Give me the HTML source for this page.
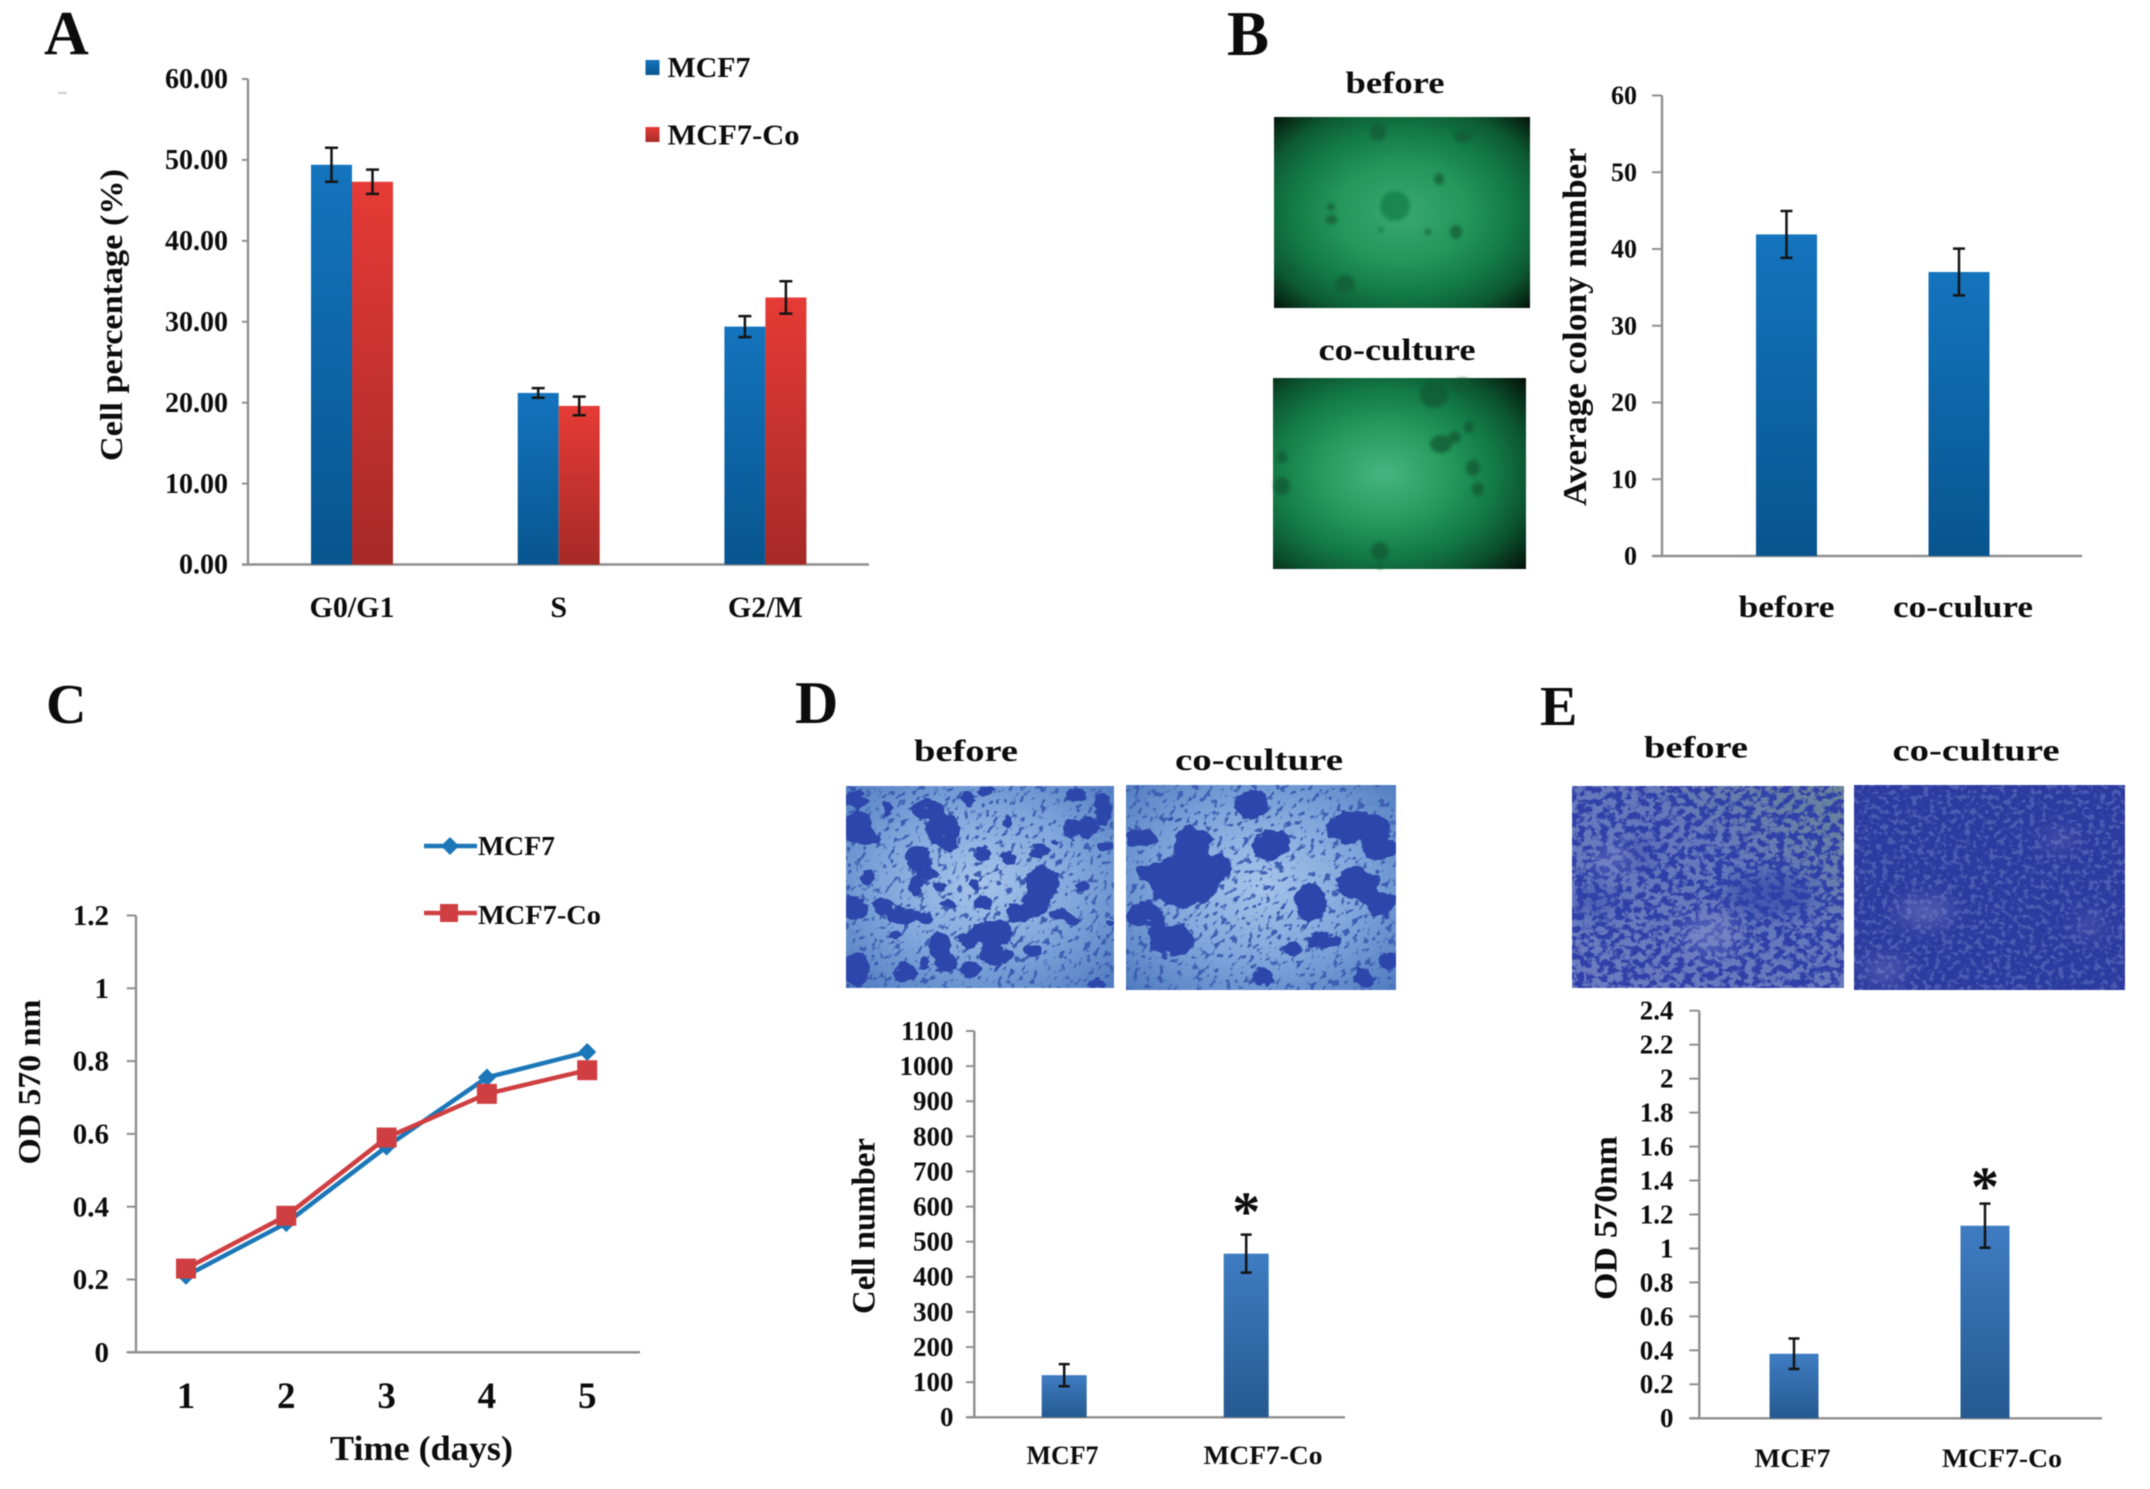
<!DOCTYPE html>
<html lang="en">
<head>
<meta charset="utf-8">
<title>MCF7 co-culture figure</title>
<style>
html,body{margin:0;padding:0;background:#fff;width:2150px;height:1489px;overflow:hidden}
svg{display:block;position:absolute;left:0;top:0;filter:blur(.5px)}
text{font-family:"Liberation Serif",serif;font-weight:bold;fill:#0c0c0c}
</style>
</head>
<body>
<svg id="fig" xmlns="http://www.w3.org/2000/svg" width="2150" height="1489" viewBox="0 0 2150 1489">
<defs>
  <linearGradient id="gBlue" x1="0" y1="0" x2="0" y2="1"><stop offset="0" stop-color="#1474bd"/><stop offset="1" stop-color="#08558f"/></linearGradient>
  <linearGradient id="gRed" x1="0" y1="0" x2="0" y2="1"><stop offset="0" stop-color="#e63b36"/><stop offset="1" stop-color="#a62a27"/></linearGradient>
  <linearGradient id="gSteel" x1="0" y1="0" x2="0" y2="1"><stop offset="0" stop-color="#3f7cc2"/><stop offset="1" stop-color="#255a90"/></linearGradient>
  <radialGradient id="gGreen1" cx=".5" cy=".5" r=".72"><stop offset="0" stop-color="#3aa971"/><stop offset=".35" stop-color="#25975a"/><stop offset=".6" stop-color="#137a45"/><stop offset=".78" stop-color="#0d5a32"/><stop offset=".92" stop-color="#072a17"/><stop offset="1" stop-color="#010705"/></radialGradient>
  <radialGradient id="gGreen2" cx=".44" cy=".5" r=".76"><stop offset="0" stop-color="#47b580"/><stop offset=".32" stop-color="#279c5d"/><stop offset=".58" stop-color="#137a45"/><stop offset=".76" stop-color="#0c5430"/><stop offset=".92" stop-color="#062514"/><stop offset="1" stop-color="#010705"/></radialGradient>
  <radialGradient id="gD" cx=".5" cy=".48" r=".75"><stop offset="0" stop-color="#a6c4ea"/><stop offset=".5" stop-color="#7fa6db"/><stop offset="1" stop-color="#4a76bd"/></radialGradient>
  <linearGradient id="gE1" x1="0" y1="1" x2="1" y2="0"><stop offset="0" stop-color="#6b7cc0"/><stop offset=".6" stop-color="#6678bc"/><stop offset="1" stop-color="#6a8498"/></linearGradient>
  <filter id="cluster" x="-5%" y="-5%" width="110%" height="110%" color-interpolation-filters="sRGB">
    <feGaussianBlur in="SourceAlpha" stdDeviation="6" result="b"/>
    <feTurbulence type="fractalNoise" baseFrequency=".035 .05" numOctaves="3" seed="5" result="n"/>
    <feColorMatrix in="n" type="matrix" values="0 0 0 0 0  0 0 0 0 0  0 0 0 0 0  1 0 0 0 0" result="na"/>
    <feComposite in="b" in2="na" operator="arithmetic" k1="0" k2=".72" k3="1" k4="0" result="sum"/>
    <feComponentTransfer in="sum" result="m"><feFuncA type="linear" slope="10" intercept="-7.9"/></feComponentTransfer>
    <feFlood flood-color="#2d46ab"/>
    <feComposite in2="m" operator="in"/>
  </filter>
  <filter id="specksD" x="0" y="0" width="100%" height="100%" color-interpolation-filters="sRGB">
    <feTurbulence type="fractalNoise" baseFrequency=".13 .2" numOctaves="2" seed="7"/>
    <feColorMatrix type="matrix" values="0 0 0 0 .24  0 0 0 0 .37  0 0 0 0 .7  9 0 0 0 -5.2"/>
  </filter>
  <filter id="specksE" x="0" y="0" width="100%" height="100%" color-interpolation-filters="sRGB">
    <feTurbulence type="fractalNoise" baseFrequency=".13 .15" numOctaves="3" seed="11"/>
    <feColorMatrix type="matrix" values="0 0 0 0 .19  0 0 0 0 .25  0 0 0 0 .66  7 0 0 0 -3.1"/>
  </filter>
  <filter id="specksE2" x="0" y="0" width="100%" height="100%" color-interpolation-filters="sRGB">
    <feTurbulence type="fractalNoise" baseFrequency=".17 .2" numOctaves="2" seed="3"/>
    <feColorMatrix type="matrix" values="0 0 0 0 .3  0 0 0 0 .36  0 0 0 0 .7  6 0 0 0 -3"/>
  </filter>
  <filter id="soft" x="-40%" y="-40%" width="180%" height="180%"><feGaussianBlur stdDeviation="9"/></filter>
  <filter id="edge" x="-30%" y="-30%" width="160%" height="160%"><feGaussianBlur stdDeviation="1.8"/></filter>
  <clipPath id="cpD1"><rect x="846" y="786" width="268" height="202"/></clipPath>
  <clipPath id="cpD2"><rect x="1126" y="785" width="270" height="205"/></clipPath>
  <clipPath id="cpE1"><rect x="1572" y="786" width="272" height="202"/></clipPath>
  <clipPath id="cpE2"><rect x="1854" y="785" width="271" height="205"/></clipPath>
</defs>

<!-- Panel letters -->
<text x="44" y="54" font-size="62">A</text>
<text x="1227" y="55" font-size="63">B</text>
<text x="46" y="723" font-size="56">C</text>
<text x="795" y="723" font-size="60">D</text>
<text x="1540" y="725" font-size="56">E</text>
<rect x="58" y="92" width="9" height="2" fill="#cfcfcf"/>

<!-- Panel B photos -->
<text x="1395" y="93" text-anchor="middle" font-size="31" textLength="99" lengthAdjust="spacingAndGlyphs">before</text>
<g>
  <rect x="1274" y="117" width="256" height="191" fill="url(#gGreen1)"/>
  <g fill="#0d5a33" fill-opacity=".72" filter="url(#edge)">
    <ellipse cx="1378" cy="132" rx="8.5" ry="8.5"/><ellipse cx="1463" cy="137" rx="9" ry="6"/><ellipse cx="1439" cy="179" rx="5" ry="6"/>
    <ellipse cx="1395" cy="206" rx="15" ry="15" fill="#157a46"/><ellipse cx="1331" cy="207" rx="4" ry="4"/><ellipse cx="1331.5" cy="219.5" rx="6" ry="5"/>
    <ellipse cx="1456" cy="232" rx="6" ry="7"/><ellipse cx="1428" cy="232" rx="3" ry="3"/><ellipse cx="1381" cy="230" rx="2" ry="2"/>
    <ellipse cx="1288" cy="269" rx="6" ry="6"/><ellipse cx="1345" cy="284" rx="10" ry="9"/>
  </g>
</g>
<text x="1397" y="360" text-anchor="middle" font-size="31" textLength="157" lengthAdjust="spacingAndGlyphs">co-culture</text>
<g>
  <rect x="1273" y="378" width="253" height="191" fill="url(#gGreen2)"/>
  <g fill="#0d5a33" fill-opacity=".75" filter="url(#edge)" transform="translate(0 -1)">
    <ellipse cx="1434" cy="395.5" rx="14" ry="13"/><ellipse cx="1462" cy="386" rx="9" ry="7"/><ellipse cx="1469" cy="428" rx="5" ry="6"/>
    <ellipse cx="1441" cy="445" rx="11" ry="9"/><ellipse cx="1455" cy="438" rx="6" ry="6"/><ellipse cx="1282" cy="458" rx="5" ry="6"/>
    <ellipse cx="1282" cy="487" rx="8" ry="9"/><ellipse cx="1473" cy="469" rx="7" ry="8"/><ellipse cx="1478" cy="490" rx="6" ry="7"/>
    <ellipse cx="1380" cy="552" rx="9" ry="9"/><ellipse cx="1380" cy="567" rx="3" ry="3"/>
  </g>
</g>

<!-- Panel D photos -->
<text x="966" y="761" text-anchor="middle" font-size="31" textLength="104" lengthAdjust="spacingAndGlyphs">before</text>
<text x="1259" y="770" text-anchor="middle" font-size="31" textLength="168" lengthAdjust="spacingAndGlyphs">co-culture</text>
<g clip-path="url(#cpD1)">
  <rect x="846" y="786" width="268" height="202" fill="url(#gD)"/>
  <rect x="780" y="680" width="400" height="420" filter="url(#specksD)" transform="rotate(-50 980 887)"/>
  <g transform="translate(846 786) scale(.3333)" fill="#2d46ab" filter="url(#cluster)">
    <ellipse cx="30" cy="40" rx="35" ry="25"/><ellipse cx="35" cy="125" rx="45" ry="50"/><ellipse cx="70" cy="155" rx="30" ry="20"/><ellipse cx="125" cy="65" rx="15" ry="20"/>
    <ellipse cx="245" cy="70" rx="50" ry="30"/><ellipse cx="290" cy="130" rx="50" ry="50"/><ellipse cx="310" cy="180" rx="30" ry="20"/><ellipse cx="365" cy="40" rx="20" ry="25"/><ellipse cx="415" cy="15" rx="25" ry="15"/>
    <ellipse cx="215" cy="215" rx="40" ry="35"/><ellipse cx="245" cy="260" rx="30" ry="20"/><ellipse cx="210" cy="300" rx="20" ry="35"/><ellipse cx="280" cy="305" rx="20" ry="15"/><ellipse cx="65" cy="275" rx="22" ry="22"/>
    <ellipse cx="25" cy="365" rx="40" ry="35"/><ellipse cx="110" cy="360" rx="30" ry="25"/><ellipse cx="170" cy="390" rx="50" ry="25"/><ellipse cx="240" cy="395" rx="25" ry="15"/><ellipse cx="310" cy="355" rx="25" ry="12"/>
    <ellipse cx="410" cy="205" rx="25" ry="25"/><ellipse cx="490" cy="215" rx="20" ry="20"/><ellipse cx="385" cy="295" rx="15" ry="15"/><ellipse cx="410" cy="350" rx="30" ry="20"/>
    <ellipse cx="580" cy="195" rx="30" ry="20"/><ellipse cx="590" cy="290" rx="50" ry="50"/><ellipse cx="570" cy="350" rx="40" ry="40"/><ellipse cx="520" cy="380" rx="40" ry="30"/>
    <ellipse cx="440" cy="440" rx="60" ry="40"/><ellipse cx="370" cy="460" rx="30" ry="25"/><ellipse cx="450" cy="510" rx="50" ry="30"/><ellipse cx="280" cy="480" rx="35" ry="40"/><ellipse cx="300" cy="530" rx="35" ry="25"/><ellipse cx="375" cy="550" rx="30" ry="25"/>
    <ellipse cx="175" cy="560" rx="35" ry="30"/><ellipse cx="30" cy="550" rx="40" ry="50"/><ellipse cx="235" cy="530" rx="15" ry="20"/><ellipse cx="145" cy="445" rx="20" ry="12"/>
    <ellipse cx="560" cy="495" rx="30" ry="20"/><ellipse cx="640" cy="385" rx="35" ry="15"/><ellipse cx="680" cy="405" rx="20" ry="15"/><ellipse cx="690" cy="30" rx="35" ry="20"/><ellipse cx="675" cy="130" rx="25" ry="30"/><ellipse cx="720" cy="125" rx="40" ry="30"/><ellipse cx="770" cy="70" rx="25" ry="50"/><ellipse cx="780" cy="180" rx="25" ry="15"/><ellipse cx="710" cy="300" rx="25" ry="15"/><ellipse cx="790" cy="410" rx="15" ry="12"/><ellipse cx="755" cy="595" rx="25" ry="15"/><ellipse cx="485" cy="110" rx="12" ry="25"/><ellipse cx="625" cy="170" rx="15" ry="8"/>
  </g>
</g>
<g clip-path="url(#cpD2)">
  <rect x="1126" y="785" width="270" height="205" fill="url(#gD)"/>
  <rect x="1060" y="680" width="400" height="420" filter="url(#specksD)" transform="rotate(-50 1260 887)"/>
  <g transform="translate(778.5 689.5) scale(.436 .512)" fill="#2f48ae" filter="url(#cluster)">
    <ellipse cx="1085" cy="225" rx="40" ry="28"/><ellipse cx="1330" cy="270" rx="75" ry="32"/><ellipse cx="1380" cy="310" rx="40" ry="22"/>
    <ellipse cx="830" cy="290" rx="38" ry="18"/><ellipse cx="950" cy="300" rx="42" ry="36"/><ellipse cx="1130" cy="305" rx="44" ry="30"/>
    <ellipse cx="930" cy="375" rx="82" ry="50"/><ellipse cx="860" cy="360" rx="42" ry="20"/><ellipse cx="1000" cy="350" rx="42" ry="26"/>
    <ellipse cx="1220" cy="415" rx="38" ry="36"/><ellipse cx="1330" cy="380" rx="48" ry="32"/><ellipse cx="1380" cy="420" rx="36" ry="24"/>
    <ellipse cx="840" cy="440" rx="44" ry="24"/><ellipse cx="900" cy="490" rx="54" ry="32"/><ellipse cx="1250" cy="490" rx="46" ry="14"/>
    <ellipse cx="1110" cy="560" rx="24" ry="18"/><ellipse cx="1340" cy="565" rx="24" ry="18"/><ellipse cx="1180" cy="505" rx="18" ry="16"/><ellipse cx="1400" cy="530" rx="24" ry="18"/>
  </g>
</g>

<!-- Panel E photos -->
<text x="1696" y="757.5" text-anchor="middle" font-size="31" textLength="104" lengthAdjust="spacingAndGlyphs">before</text>
<text x="1976" y="760.5" text-anchor="middle" font-size="31" textLength="167" lengthAdjust="spacingAndGlyphs">co-culture</text>
<g clip-path="url(#cpE1)">
  <rect x="1572" y="786" width="272" height="202" fill="url(#gE1)"/>
  <rect x="1572" y="786" width="272" height="202" filter="url(#specksE)"/>
  <g filter="url(#soft)">
    <ellipse cx="1770" cy="895" rx="45" ry="22" fill="#2f3fa6" fill-opacity=".6"/>
    <ellipse cx="1595" cy="900" rx="22" ry="16" fill="#2f3fa6" fill-opacity=".45"/>
    <ellipse cx="1640" cy="855" rx="16" ry="18" fill="#2f3fa6" fill-opacity=".4"/>
    <ellipse cx="1710" cy="935" rx="26" ry="18" fill="#8794d0" fill-opacity=".45"/>
    <ellipse cx="1612" cy="860" rx="18" ry="14" fill="#8794d0" fill-opacity=".35"/>
  </g>
</g>
<g clip-path="url(#cpE2)">
  <rect x="1854" y="785" width="271" height="205" fill="#2c3b9f"/>
  <rect x="1854" y="785" width="271" height="205" filter="url(#specksE2)"/>
  <g fill="#8a90cc" filter="url(#soft)">
    <ellipse cx="1925" cy="912" rx="28" ry="12" fill-opacity=".45"/><ellipse cx="1885" cy="970" rx="20" ry="10" fill-opacity=".4"/><ellipse cx="2060" cy="840" rx="16" ry="10" fill-opacity=".25"/><ellipse cx="2090" cy="925" rx="12" ry="10" fill-opacity=".3"/>
  </g>
</g>

<g id="layer"></g>
</svg>

<script>
// ---- Panel A: cell-cycle distribution
const aCategories = ['G0/G1', 'S', 'G2/M'];
const aMcf7 = [49.4, 21.2, 29.4];
const aMcf7Co = [47.3, 19.6, 33.0];
const aMcf7Err = [2.1, 0.6, 1.3];
const aMcf7CoErr = [1.5, 1.15, 2.0];
const aTicks = ['0.00', '10.00', '20.00', '30.00', '40.00', '50.00', '60.00'];
// ---- Panel B: colony number
const bCategories = ['before', 'co-culure'];
const bValues = [41.9, 37.0];
const bErr = [3.05, 3.05];
const bTicks = ['0', '10', '20', '30', '40', '50', '60'];
// ---- Panel C: growth curve
const cDays = ['1', '2', '3', '4', '5'];
const cMcf7 = [0.21, 0.355, 0.565, 0.755, 0.825];
const cMcf7Co = [0.23, 0.375, 0.59, 0.71, 0.775];
const cTicks = ['0', '0.2', '0.4', '0.6', '0.8', '1', '1.2'];
// ---- Panel D: cell number
const dCategories = ['MCF7', 'MCF7-Co'];
const dValues = [120, 466];
const dErr = [31.5, 54];
const dTicks = ['0', '100', '200', '300', '400', '500', '600', '700', '800', '900', '1000', '1100'];
const dStars = ['', '*'];
// ---- Panel E: OD 570
const eCategories = ['MCF7', 'MCF7-Co'];
const eValues = [0.38, 1.134];
const eErr = [0.09, 0.13];
const eTicks = ['0', '0.2', '0.4', '0.6', '0.8', '1', '1.2', '1.4', '1.6', '1.8', '2', '2.2', '2.4'];
const eStars = ['', '*'];

const NS = 'http://www.w3.org/2000/svg';
const layer = document.getElementById('layer');

function mk(tag, parent, attrs) {
  const el = document.createElementNS(NS, tag);
  for (const k in attrs) el.setAttribute(k, attrs[k]);
  parent.appendChild(el);
  return el;
}
function linear(d0, d1, r0, r1) {
  return function (v) { return r0 + (v - d0) * (r1 - r0) / (d1 - d0); };
}
function txt(parent, x, y, s, size, anchor, width, rot) {
  const a = { x: x, y: y, 'font-size': size, 'text-anchor': anchor };
  if (width) { a.textLength = width; a.lengthAdjust = 'spacingAndGlyphs'; }
  if (rot) a.transform = 'rotate(-90 ' + x + ' ' + y + ')';
  const el = mk('text', parent, a);
  el.textContent = s;
  return el;
}
function drawAxes(g, y, ticks, box) {
  const yAxis = mk('line', g, { x1: box.x, x2: box.x, y1: box.top, y2: box.bottom, stroke: '#8f8f8f', 'stroke-width': 2.4 });
  
  
  const xAxis = mk('line', g, { x1: box.tickX, x2: box.right, y1: box.bottom, y2: box.bottom, stroke: '#8f8f8f', 'stroke-width': 2.4 });
  
  
  ticks.forEach(function (t) {
    const v = parseFloat(t);
    const mark = mk('line', g, { x1: box.tickX, x2: box.x, y1: y(v), y2: y(v), stroke: '#8f8f8f', 'stroke-width': 2 });
    
    
    const lab = txt(g, box.labelX, y(v) + box.size * 0.33, t, box.size, 'end');
    
    
  });
}
function drawBar(g, cx, w, value, err, y, fill, capW, name) {
  const bar = mk('rect', g, { x: cx - w / 2, y: y(value), width: w, height: y(0) - y(value), fill: fill });
  
  
  const hi = y(value + err), lo = y(value - err);
  const eb = mk('path', g, { d: 'M' + (cx - capW / 2) + ' ' + hi + 'H' + (cx + capW / 2) + 'M' + cx + ' ' + hi + 'V' + lo + 'M' + (cx - capW / 2) + ' ' + lo + 'H' + (cx + capW / 2), stroke: '#141414', 'stroke-width': 2.5, fill: 'none' });
  
  
}

// Panel A
(function () {
  const g = mk('g', layer, {});
  
  
  const y = linear(0, 60, 564.5, 79);
  const x = function (i) { return 352 + 206.7 * i; };
  drawAxes(g, y, aTicks, { x: 248, top: 79, bottom: 564.5, tickX: 242, right: 869, labelX: 228, size: 28 });
  aCategories.forEach(function (c, i) {
    drawBar(g, x(i) - 20.5, 41, aMcf7[i], aMcf7Err[i], y, 'url(#gBlue)', 13, 'bar-mcf7-' + c);
    drawBar(g, x(i) + 20.5, 41, aMcf7Co[i], aMcf7CoErr[i], y, 'url(#gRed)', 13, 'bar-mcf7-co-' + c);
    const l = txt(g, x(i), 617, c, 30, 'middle');
    
    
  });
  const title = txt(g, 122, 315, 'Cell percentage (%)', 32, 'middle', 292, true);
  
  
  [['MCF7', 'url(#gBlue)', 60, 77, 83], ['MCF7-Co', 'url(#gRed)', 127, 144.5, 132]].forEach(function (e) {
    const sw = mk('rect', g, { x: 645.5, y: e[2], width: 14, height: 15, fill: e[1] });
    
    
    const t = txt(g, 667.5, e[3], e[0], 29, 'start', e[4]);
    
    
  });
})();

// Panel B
(function () {
  const g = mk('g', layer, {});
  
  
  const y = linear(0, 60, 556, 95.5);
  const x = function (i) { return 1786.5 + 172.5 * i; };
  drawAxes(g, y, bTicks, { x: 1662, top: 95.5, bottom: 556, tickX: 1652, right: 2082, labelX: 1637, size: 26 });
  const widths = [96, 140];
  bCategories.forEach(function (c, i) {
    drawBar(g, x(i), 61, bValues[i], bErr[i], y, 'url(#gBlue)', 12, 'bar-' + c);
    const l = txt(g, x(i) + (i ? 4 : 0), 617, c, 31, 'middle', widths[i]);
    
    
  });
  const title = txt(g, 1586, 327, 'Average colony number', 34, 'middle', 358, true);
  
  
})();

// Panel C
(function () {
  const g = mk('g', layer, {});
  
  
  const y = linear(0, 1.2, 1352.3, 915.5);
  const x = function (i) { return 186 + 100.3 * i; };
  drawAxes(g, y, cTicks, { x: 136, top: 915.5, bottom: 1352.3, tickX: 126.7, right: 640, labelX: 109, size: 29 });
  cDays.forEach(function (d, i) {
    const l = txt(g, x(i), 1408, d, 37, 'middle');
    
    
  });
  function diamond(cx, cy, r) { return 'M' + cx + ' ' + (cy - r) + 'L' + (cx + r) + ' ' + cy + 'L' + cx + ' ' + (cy + r) + 'L' + (cx - r) + ' ' + cy + 'Z'; }
  function series(vals, color, marker, name) {
    const line = mk('polyline', g, { points: vals.map(function (v, i) { return x(i) + ',' + y(v); }).join(' '), fill: 'none', stroke: color, 'stroke-width': 4.5 });
    
    
    vals.forEach(function (v, i) {
      const m = marker === 'd'
        ? mk('path', g, { d: diamond(x(i), y(v), 9), fill: color })
        : mk('rect', g, { x: x(i) - 10, y: y(v) - 10, width: 20, height: 20, fill: color });
      
      
    });
  }
  series(cMcf7, '#1b77b8', 'd', 'mcf7');
  series(cMcf7Co, '#cf3f42', 's', 'mcf7-co');
  const t1 = txt(g, 330, 1460, 'Time (days)', 35, 'start', 183);
  
  
  const t2 = txt(g, 40, 1082, 'OD 570 nm', 32, 'middle', 165, true);
  
  
  const l1 = mk('line', g, { x1: 424, x2: 477, y1: 846, y2: 846, stroke: '#1b77b8', 'stroke-width': 4.5 });
  
  
  const m1 = mk('path', g, { d: diamond(450, 846, 9), fill: '#1b77b8' });
  
  
  const e1 = txt(g, 478, 855, 'MCF7', 27, 'start', 77);
  
  
  const l2 = mk('line', g, { x1: 424, x2: 477, y1: 913, y2: 913, stroke: '#cf3f42', 'stroke-width': 4.5 });
  
  
  const m2 = mk('rect', g, { x: 440, y: 904, width: 18, height: 18, fill: '#cf3f42' });
  
  
  const e2 = txt(g, 478, 924, 'MCF7-Co', 27, 'start', 123);
  
  
})();

// Panels D and E
function drawLowerChart(name, cats, vals, errs, stars, ticks, cfg) {
  const g = mk('g', layer, {});
  
  
  const max = parseFloat(ticks[ticks.length - 1]);
  const y = linear(0, max, cfg.bottom, cfg.top);
  const x = function (i) { return cfg.x0 + cfg.step * i; };
  drawAxes(g, y, ticks, { x: cfg.axisX, top: cfg.top, bottom: cfg.bottom, tickX: cfg.tickX, right: cfg.right, labelX: cfg.labelX, size: 27 });
  cats.forEach(function (c, i) {
    drawBar(g, x(i), cfg.barW, vals[i], errs[i], y, 'url(#gSteel)', 11, 'bar-' + c);
    const l = txt(g, cfg.labelXs[i], cfg.labelY, c, 26, 'middle', cfg.labelWs[i]);
    
    
    if (stars[i]) {
      const s = txt(g, x(i), y(vals[i] + errs[i]) - cfg.starGap, stars[i], 56, 'middle');
      
      
    }
  });
  const t = txt(g, cfg.titleX, cfg.titleY, cfg.title, 33, 'middle', cfg.titleW, true);
  
  
}
drawLowerChart('panel-d-chart', dCategories, dValues, dErr, dStars, dTicks, {
  bottom: 1417.3, top: 1031, axisX: 974.3, tickX: 966, right: 1345, labelX: 953.5,
  x0: 1064.2, step: 182, barW: 45, labelXs: [1062.5, 1263], labelWs: [72, 119], labelY: 1464,
  starGap: 4, title: 'Cell number', titleX: 874.5, titleY: 1226, titleW: 176
});
drawLowerChart('panel-e-chart', eCategories, eValues, eErr, eStars, eTicks, {
  bottom: 1418.3, top: 1010.7, axisX: 1699.3, tickX: 1689.3, right: 2102, labelX: 1673.5,
  x0: 1794, step: 191, barW: 49, labelXs: [1792.5, 2002], labelWs: [76, 120], labelY: 1467,
  starGap: -2, title: 'OD 570nm', titleX: 1616.5, titleY: 1218, titleW: 164
});
</script>
</body>
</html>
